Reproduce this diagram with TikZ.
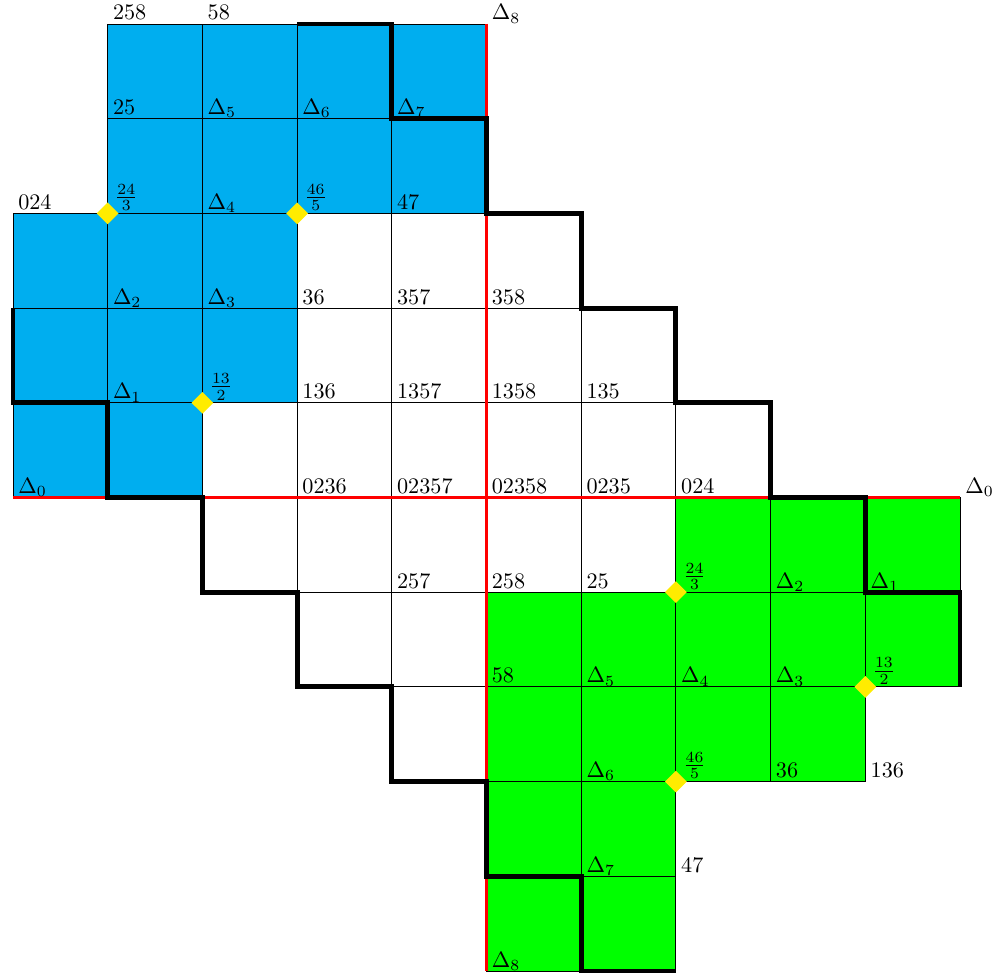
\documentclass[tikz,border=0pt]{standalone}
\usetikzlibrary{shapes.geometric}
\definecolor{cellblue}{RGB}{0,174,239}
\definecolor{cellgreen}{RGB}{0,255,0}
\definecolor{dyellow}{RGB}{255,236,0}
\begin{document}
\begin{tikzpicture}[x=1.5cm,y=1.5cm,
  bcell/.style={fill=cellblue,draw=black,line width=0.4pt},
  gcell/.style={fill=cellgreen,draw=black,line width=0.4pt},
  wcell/.style={fill=white,draw=black,line width=0.4pt},
  redline/.style={draw=red,line width=1.1pt},
  bound/.style={draw=black,line width=2.2pt},
  mark/.style={},
  dmark/.style={diamond,fill=dyellow,inner sep=0pt,minimum width=0.35cm,minimum height=0.35cm},
  lab/.style={anchor=base west,inner sep=2.2pt,yshift=1.8pt},
  flab/.style={anchor=south west,inner xsep=3pt,inner ysep=1pt}]
\useasboundingbox (-0.137,-0.042) rectangle (10.401,10.253);
% blue cells
\foreach \i/\j in {1/0,2/0,3/0,4/0,1/1,2/1,3/1,4/1,0/2,1/2,2/2,0/3,1/3,2/3,0/4,1/4}
  \draw[bcell] (\i,9-\j) rectangle ++(1,1);
% green cells
\foreach \i/\j in {7/5,8/5,9/5,5/6,6/6,7/6,8/6,9/6,5/7,6/7,7/7,8/7,5/8,6/8,5/9,6/9}
  \draw[gcell] (\i,9-\j) rectangle ++(1,1);
% white cells
\foreach \i/\j in {3/2,4/2,5/2,3/3,4/3,5/3,6/3,2/4,3/4,4/4,5/4,6/4,7/4,2/5,3/5,4/5,5/5,6/5,3/6,4/6,4/7}
  \draw[wcell] (\i,9-\j) rectangle ++(1,1);
% red axes
\coordinate (hl) at (0,5);
\coordinate (hr) at (10,5);
\coordinate (vt) at (5,10);
\coordinate (vb) at (5,0);
\draw[redline] (hl) -- (hr);
\draw[redline] (vt) -- (vb);
% thick staircases
\draw[bound] (3,10) -- (4,10) -- (4,9) -- (5,9) -- (5,8) -- (6,8) -- (6,7) -- (7,7) -- (7,6) -- (8,6) -- (8,5) -- (9,5) -- (9,4) -- (10,4) -- (10,3);
\draw[bound] (0,7) -- (0,6) -- (1,6) -- (1,5) -- (2,5) -- (2,4) -- (3,4) -- (3,3) -- (4,3) -- (4,2) -- (5,2) -- (5,1) -- (6,1) -- (6,0) -- (7,0);
% diamonds
\foreach \i/\j in {1/2,3/2,2/4,7/6,9/7,7/8}
  \node[dmark] (d-\i-\j) at (\i,10-\j) {};
% labels
\foreach \i/\j/\t in {1/0/258, 2/0/58, 5/0/$\Delta_8$,
   1/1/25, 2/1/$\Delta_5$, 3/1/$\Delta_6$, 4/1/$\Delta_7$,
   0/2/024, 2/2/$\Delta_4$, 4/2/47,
   1/3/$\Delta_2$, 2/3/$\Delta_3$, 3/3/36, 4/3/357, 5/3/358,
   1/4/$\Delta_1$, 3/4/136, 4/4/1357, 5/4/1358, 6/4/135,
   0/5/$\Delta_0$, 3/5/0236, 4/5/02357, 5/5/02358, 6/5/0235, 7/5/024, 10/5/$\Delta_0$,
   4/6/257, 5/6/258, 6/6/25, 8/6/$\Delta_2$, 9/6/$\Delta_1$,
   5/7/58, 6/7/$\Delta_5$, 7/7/$\Delta_4$, 8/7/$\Delta_3$,
   6/8/$\Delta_6$, 8/8/36, 9/8/136,
   6/9/$\Delta_7$, 7/9/47,
   5/10/$\Delta_8$}
  \node[lab] (t-\i-\j) at (\i,10-\j) {\t};
% fraction labels
\foreach \i/\j/\a/\b in {1/2/24/3, 3/2/46/5, 2/4/13/2, 7/6/24/3, 9/7/13/2, 7/8/46/5}
  \node[flab] (f-\i-\j) at (\i,10-\j) {$\frac{\a}{\b}$};
\end{tikzpicture}
\end{document}
